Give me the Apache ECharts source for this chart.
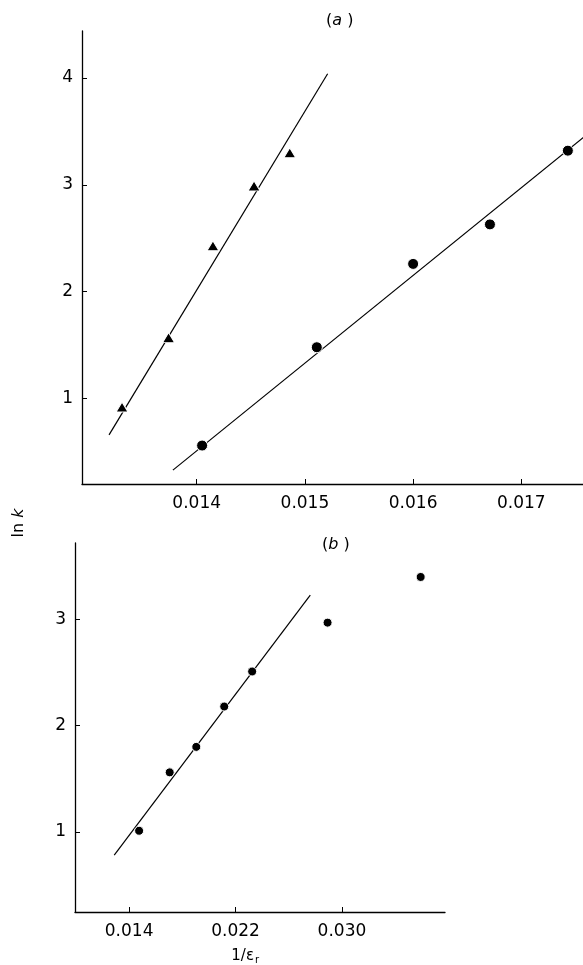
<!DOCTYPE html>
<html>
<head>
<meta charset="utf-8">
<script src="https://cdn.jsdelivr.net/npm/echarts@6/dist/echarts.min.js"></script>
<style>html,body{margin:0;padding:0;background:#fff}#c{width:583px;height:965px}</style>
</head>
<body>
<div id="c"></div>
<script>
// Panel (a)
const aTicksX = [0.014, 0.015, 0.016, 0.017];
const aTicksY = [1, 2, 3, 4];
const aTriangles = [[0.01331, 0.92], [0.01374, 1.57], [0.01415, 2.43], [0.01453, 2.99], [0.01486, 3.30]];
const aCircles = [[0.01405, 0.56], [0.01511, 1.48], [0.01600, 2.26], [0.01671, 2.63], [0.01743, 3.32]];
const aTriangleFit = [[0.01319, 0.66], [0.01521, 4.04]];
const aCircleFit = [[0.01378, 0.33], [0.01758, 3.45]];
// Panel (b)
const bTicksX = [0.014, 0.022, 0.030];
const bTicksY = [1, 2, 3];
const bPoints = [[0.01475, 1.01], [0.01705, 1.56], [0.01905, 1.80], [0.02115, 2.18], [0.02325, 2.51], [0.02892, 2.97], [0.03592, 3.40]];
const bFit = [[0.01288, 0.78], [0.02762, 3.23]];

const FONT = 'DejaVu Sans';
const INK = '#000';
const axisCommon = {
  axisLine: { show: true, onZero: false, lineStyle: { color: INK, width: 1.3 } },
  splitLine: { show: false },
  axisTick: { show: true, inside: true, length: 5, lineStyle: { color: INK, width: 1 } },
};
function xAx(grid, min, max, ticks, decimals) {
  return Object.assign({}, axisCommon, {
    type: 'value', gridIndex: grid, min: min, max: max,
    axisTick: Object.assign({}, axisCommon.axisTick, { customValues: ticks }),
    axisLabel: { customValues: ticks, margin: 11, color: INK, fontFamily: FONT, fontSize: 17,
      formatter: v => v.toFixed(decimals) }
  });
}
function yAx(grid, min, max, ticks) {
  return Object.assign({}, axisCommon, {
    type: 'value', gridIndex: grid, min: min, max: max,
    axisTick: Object.assign({}, axisCommon.axisTick, { customValues: ticks }),
    axisLabel: { customValues: ticks, margin: 9, color: INK, fontFamily: FONT, fontSize: 17,
      formatter: v => String(Math.round(v)) }
  });
}
const lineStyle = { color: INK, width: 1.2 };
const markStyle = { color: INK, opacity: 1, borderColor: '#fff', borderWidth: 1 };
const chart = echarts.init(document.getElementById('c'), null, { renderer: 'canvas' });
chart.setOption({
  animation: false,
  backgroundColor: '#fff',
  grid: [
    { left: 82, top: 31, width: 501, height: 453 },
    { left: 75, top: 543, width: 370, height: 369 }
  ],
  xAxis: [
    xAx(0, 0.01294, 0.01757, aTicksX, 3),
    xAx(1, 0.00993, 0.03775, bTicksX, 3)
  ],
  yAxis: [
    yAx(0, 0.2, 4.44, aTicksY),
    yAx(1, 0.245, 3.72, bTicksY)
  ],
  series: [
    { type: 'line', xAxisIndex: 0, yAxisIndex: 0, data: aTriangleFit, symbol: 'none', lineStyle: lineStyle, z: 1 },
    { type: 'line', xAxisIndex: 0, yAxisIndex: 0, data: aCircleFit, symbol: 'none', lineStyle: lineStyle, z: 1 },
    { type: 'scatter', xAxisIndex: 0, yAxisIndex: 0, data: aTriangles, symbol: 'triangle', symbolSize: [12, 10],
      itemStyle: markStyle, z: 3 },
    { type: 'scatter', xAxisIndex: 0, yAxisIndex: 0, data: aCircles, symbol: 'circle', symbolSize: 11,
      itemStyle: markStyle, z: 3 },
    { type: 'line', xAxisIndex: 1, yAxisIndex: 1, data: bFit, symbol: 'none', lineStyle: lineStyle, z: 1 },
    { type: 'scatter', xAxisIndex: 1, yAxisIndex: 1, data: bPoints, symbol: 'circle', symbolSize: 9,
      itemStyle: markStyle, z: 3 }
  ],
  graphic: [
    { type: 'text', left: 326, top: 13, style: { text: '({i|a} )', fill: INK, font: '16px ' + FONT,
      rich: { i: { fontStyle: 'italic', fontSize: 16, fontFamily: FONT, fill: INK } } } },
    { type: 'text', left: 322, top: 537, style: { text: '({i|b} )', fill: INK, font: '16px ' + FONT,
      rich: { i: { fontStyle: 'italic', fontSize: 16, fontFamily: FONT, fill: INK } } } },
    { type: 'text', x: 19, y: 523, rotation: Math.PI / 2, style: { text: 'ln {i|k}', fill: INK, font: '16px ' + FONT,
      align: 'center', verticalAlign: 'middle',
      rich: { i: { fontStyle: 'italic', fontSize: 16, fontFamily: FONT, fill: INK } } } },
    { type: 'text', x: 254, y: 956, style: { text: '1/ε', fill: INK, font: '15px ' + FONT, align: 'right', verticalAlign: 'middle' } },
    { type: 'text', x: 255, y: 960, style: { text: 'r', fill: INK, font: '10px ' + FONT, align: 'left', verticalAlign: 'middle' } }
  ]
});
</script>
</body>
</html>
